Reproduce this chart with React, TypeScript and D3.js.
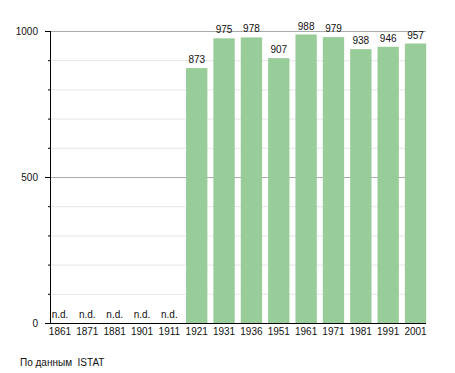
import { useEffect, useRef } from "react";
import * as d3 from "d3";

const years = ["1861", "1871", "1881", "1901", "1911", "1921", "1931", "1936", "1951", "1961", "1971", "1981", "1991", "2001"];
const population: (number | null)[] = [null, null, null, null, null, 873, 975, 978, 907, 988, 979, 938, 946, 957];
const majorTicks = [0, 500, 1000];
const minorTicks = [100, 200, 300, 400, 600, 700, 800, 900];

const width = 455;
const height = 373;
const left = 50;
const plotEnd = 426;
const top = 31;
const bottom = 323;
const font = "Liberation Sans, Arial, sans-serif";

const drawChart = (svgEl: SVGSVGElement) => {
  const svg = d3.select(svgEl);
  svg.selectAll("*").remove();

  const x = d3.scaleBand<string>().domain(years).range([46.3, 429.2]).paddingInner(0.22).paddingOuter(0.11);
  const y = d3.scaleLinear().domain([0, 1000]).range([bottom, top]);

  // grid
  svg
    .append("g")
    .selectAll("line")
    .data(minorTicks)
    .enter()
    .append("line")
    .attr("x1", left)
    .attr("x2", plotEnd)
    .attr("y1", (d) => y(d) + 0.5)
    .attr("y2", (d) => y(d) + 0.5)
    .style("stroke", "#e6e6e6");

  svg
    .append("g")
    .selectAll("line")
    .data(majorTicks.filter((d) => d > 0))
    .enter()
    .append("line")
    .attr("x1", left)
    .attr("x2", plotEnd)
    .attr("y1", (d) => y(d) + 0.5)
    .attr("y2", (d) => y(d) + 0.5)
    .style("stroke", "#aaaaaa");

  // bars
  const withData = years.map((yr, i) => ({ yr, v: population[i] }));
  svg
    .append("g")
    .selectAll("rect")
    .data(withData.filter((d) => d.v !== null))
    .enter()
    .append("rect")
    .attr("x", (d) => x(d.yr)!)
    .attr("y", (d) => y(d.v!))
    .attr("width", x.bandwidth())
    .attr("height", (d) => bottom - y(d.v!))
    .style("fill", "#98cc98");

  // value labels
  svg
    .append("g")
    .selectAll("text")
    .data(withData)
    .enter()
    .append("text")
    .attr("x", (d) => x(d.yr)! + x.bandwidth() / 2)
    .attr("y", (d) => (d.v === null ? bottom - 5 : y(d.v) - 5))
    .attr("text-anchor", "middle")
    .style("font-family", font)
    .style("font-size", "10px")
    .style("fill", "#111")
    .text((d) => (d.v === null ? "n.d." : String(d.v)));

  // axes
  svg
    .append("line")
    .attr("x1", left + 0.5)
    .attr("x2", left + 0.5)
    .attr("y1", top)
    .attr("y2", bottom)
    .style("stroke", "#000");
  svg
    .append("line")
    .attr("x1", left - 5)
    .attr("x2", plotEnd)
    .attr("y1", bottom + 0.5)
    .attr("y2", bottom + 0.5)
    .style("stroke", "#000");

  svg
    .append("g")
    .selectAll("line")
    .data(majorTicks)
    .enter()
    .append("line")
    .attr("x1", left - 5)
    .attr("x2", left)
    .attr("y1", (d) => y(d) + 0.5)
    .attr("y2", (d) => y(d) + 0.5)
    .style("stroke", "#000");
  svg
    .append("g")
    .selectAll("line")
    .data(minorTicks)
    .enter()
    .append("line")
    .attr("x1", left - 2)
    .attr("x2", left)
    .attr("y1", (d) => y(d) + 0.5)
    .attr("y2", (d) => y(d) + 0.5)
    .style("stroke", "#000");

  svg
    .append("g")
    .selectAll("text")
    .data(majorTicks)
    .enter()
    .append("text")
    .attr("x", left - 12)
    .attr("y", (d) => y(d) + 4)
    .attr("text-anchor", "end")
    .style("font-family", font)
    .style("font-size", "10px")
    .style("fill", "#111")
    .text((d) => String(d));

  svg
    .append("g")
    .selectAll("text")
    .data(years)
    .enter()
    .append("text")
    .attr("x", (d) => x(d)! + x.bandwidth() / 2)
    .attr("y", bottom + 12)
    .attr("text-anchor", "middle")
    .style("font-family", font)
    .style("font-size", "10px")
    .style("fill", "#111")
    .text((d) => d);

  svg
    .append("text")
    .attr("x", 20)
    .attr("y", 366)
    .style("font-family", font)
    .style("font-size", "10px")
    .style("fill", "#111")
    .style("white-space", "pre")
    .text("По данным  ISTAT");
};

const App = () => {
  const svgRef = useRef<SVGSVGElement>(null);

  useEffect(() => {
    if (svgRef.current) drawChart(svgRef.current);
  }, []);

  return (
    <svg
      ref={svgRef}
      width={width}
      height={height}
      style={{ position: "absolute", left: 0, top: 0, background: "#fff" }}
    ></svg>
  );
};

export default App;
